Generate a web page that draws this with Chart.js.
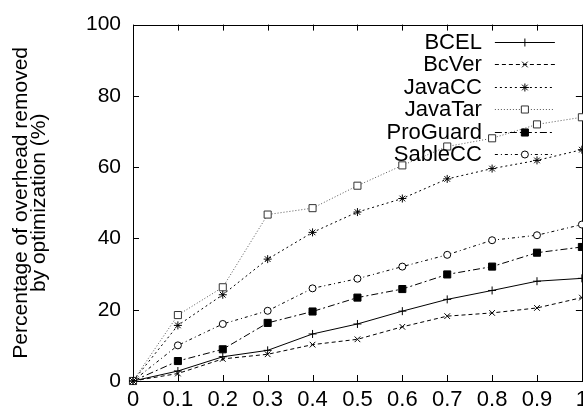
<!DOCTYPE html>
<html>
<head>
<meta charset="utf-8">
<title>Overhead removed by optimization</title>
<script src="https://cdn.jsdelivr.net/npm/chart.js@4/dist/chart.umd.min.js"></script>
<style>
  html, body { margin: 0; padding: 0; background: #fff; overflow: hidden; }
  .wrap { width: 594px; height: 419px; }
</style>
</head>
<body>
<div class="wrap"><canvas id="chart"></canvas></div>
<script>
// x ticks (fraction of optimization applied)
const xLabels = ["0", "0.1", "0.2", "0.3", "0.4", "0.5", "0.6", "0.7", "0.8", "0.9", "1"];

// percentage of overhead removed
const bcel     = [0, 2.8, 6.8, 8.6, 13.2, 16.0, 19.6, 22.9, 25.4, 28.0, 28.8];
const bcver    = [0, 2.1, 6.2, 7.5, 10.2, 11.7, 15.2, 18.2, 19.1, 20.5, 23.4];
const javacc   = [0, 15.6, 24.2, 34.2, 41.7, 47.4, 51.2, 56.7, 59.6, 61.9, 64.9];
const javatar  = [0, 18.5, 26.3, 46.7, 48.5, 54.8, 60.5, 65.8, 68.1, 72.0, 74.0];
const proguard = [0, 5.6, 8.9, 16.3, 19.5, 23.4, 25.8, 29.9, 32.1, 36.0, 37.6];
const sablecc  = [0, 10.0, 16.0, 19.7, 26.0, 28.7, 32.1, 35.4, 39.5, 40.9, 43.9];

const yMin = 0, yMax = 100, yStep = 20;
const yTitle = ["Percentage of overhead removed", "by optimization (%)"];

const FONT = "'Liberation Sans', Arial, Helvetica, sans-serif";

function series(label, data, dash, pointStyle, radius, color, fill) {
  return {
    label: label,
    data: data,
    borderColor: color,
    borderWidth: 1,
    borderDash: dash,
    pointStyle: pointStyle,
    pointRadius: radius,
    pointHoverRadius: radius,
    pointBorderColor: color === "#000" ? "#000" : "#333",
    pointBackgroundColor: fill,
    pointBorderWidth: 1,
    tension: 0,
    fill: false,
    clip: false
  };
}

// box round the plot with gnuplot style inward ticks
const frame = {
  id: "frame",
  beforeDatasetsDraw(chart) {
    const ctx = chart.ctx, a = chart.chartArea;
    const xs = chart.scales.x, ys = chart.scales.y;
    const len = 6;
    ctx.save();
    ctx.strokeStyle = "#000";
    ctx.lineWidth = 1;
    ctx.beginPath();
    xs.ticks.forEach((t, i) => {
      const px = Math.round(xs.getPixelForTick(i)) + 0.5;
      ctx.moveTo(px, a.bottom); ctx.lineTo(px, a.bottom - len);
      ctx.moveTo(px, a.top); ctx.lineTo(px, a.top + len);
    });
    ys.ticks.forEach(t => {
      const py = Math.round(ys.getPixelForValue(t.value)) + 0.5;
      ctx.moveTo(a.left, py); ctx.lineTo(a.left + len, py);
      ctx.moveTo(a.right, py); ctx.lineTo(a.right - len, py);
    });
    ctx.stroke();
    ctx.strokeRect(Math.round(a.left) + 0.5, Math.round(a.top) + 0.5,
                   Math.round(a.right - a.left), Math.round(a.bottom - a.top));
    ctx.restore();
  }
};

// legend inside the plot: text right aligned, sample line with marker after it
const keyLegend = {
  id: "keyLegend",
  afterDatasetsDraw(chart) {
    const ctx = chart.ctx, a = chart.chartArea;
    const textX = a.right - 100, x0 = a.right - 87, x1 = a.right - 27, xm = a.right - 57;
    ctx.save();
    ctx.font = "22px " + FONT;
    ctx.textAlign = "right";
    ctx.textBaseline = "middle";
    chart.data.datasets.forEach((ds, i) => {
      const y = a.top + 17 + i * 22.5;
      ctx.fillStyle = "#000";
      ctx.fillText(ds.label, textX, y + 1);
      ctx.strokeStyle = ds.borderColor;
      ctx.lineWidth = 1;
      ctx.setLineDash(ds.borderDash);
      ctx.beginPath();
      ctx.moveTo(x0, Math.round(y) + 0.5);
      ctx.lineTo(x1, Math.round(y) + 0.5);
      ctx.stroke();
      ctx.setLineDash([]);
      ctx.strokeStyle = ds.pointBorderColor;
      ctx.fillStyle = ds.pointBackgroundColor;
      Chart.helpers.drawPoint(ctx, {
        pointStyle: ds.pointStyle, radius: ds.pointRadius, borderWidth: 1, rotation: 0
      }, xm, Math.round(y) + 0.5);
    });
    ctx.restore();
  }
};

new Chart(document.getElementById("chart"), {
  type: "line",
  data: {
    labels: xLabels,
    datasets: [
      series("BCEL", bcel, [], "cross", 4, "#000", "#000"),
      series("BcVer", bcver, [4, 3], "crossRot", 4, "#000", "#000"),
      series("JavaCC", javacc, [2, 3], "star", 4, "#000", "#000"),
      series("JavaTar", javatar, [1, 2], "rect", 5, "#555", "#fff"),
      series("ProGuard", proguard, [7, 3, 2, 3], "rect", 5, "#000", "#000"),
      series("SableCC", sablecc, [3, 3, 1, 3], "circle", 3.5, "#000", "#fff")
    ]
  },
  options: {
    responsive: true,
    maintainAspectRatio: false,
    animation: false,
    layout: { padding: { top: 16, left: 0, right: 0, bottom: 0 } },
    plugins: {
      legend: { display: false },
      tooltip: { enabled: false }
    },
    scales: {
      x: {
        type: "category",
        offset: false,
        grid: { display: false, drawTicks: false },
        border: { display: false },
        ticks: {
          color: "#000",
          font: { family: FONT, size: 22 },
          padding: 6,
          maxRotation: 0,
          autoSkip: false
        },
        afterFit(axis) { axis.height = 38; }
      },
      y: {
        min: yMin,
        max: yMax,
        grid: { display: false, drawTicks: false },
        border: { display: false },
        ticks: {
          stepSize: yStep,
          color: "#000",
          font: { family: FONT, size: 21 },
          padding: 12
        },
        title: {
          display: true,
          text: yTitle,
          color: "#000",
          font: { family: FONT, size: 21, lineHeight: 0.85 },
          padding: { top: 12, bottom: 0 }
        },
        afterFit(axis) { axis.width = 133; }
      }
    }
  },
  plugins: [frame, keyLegend]
});
</script>
</body>
</html>
